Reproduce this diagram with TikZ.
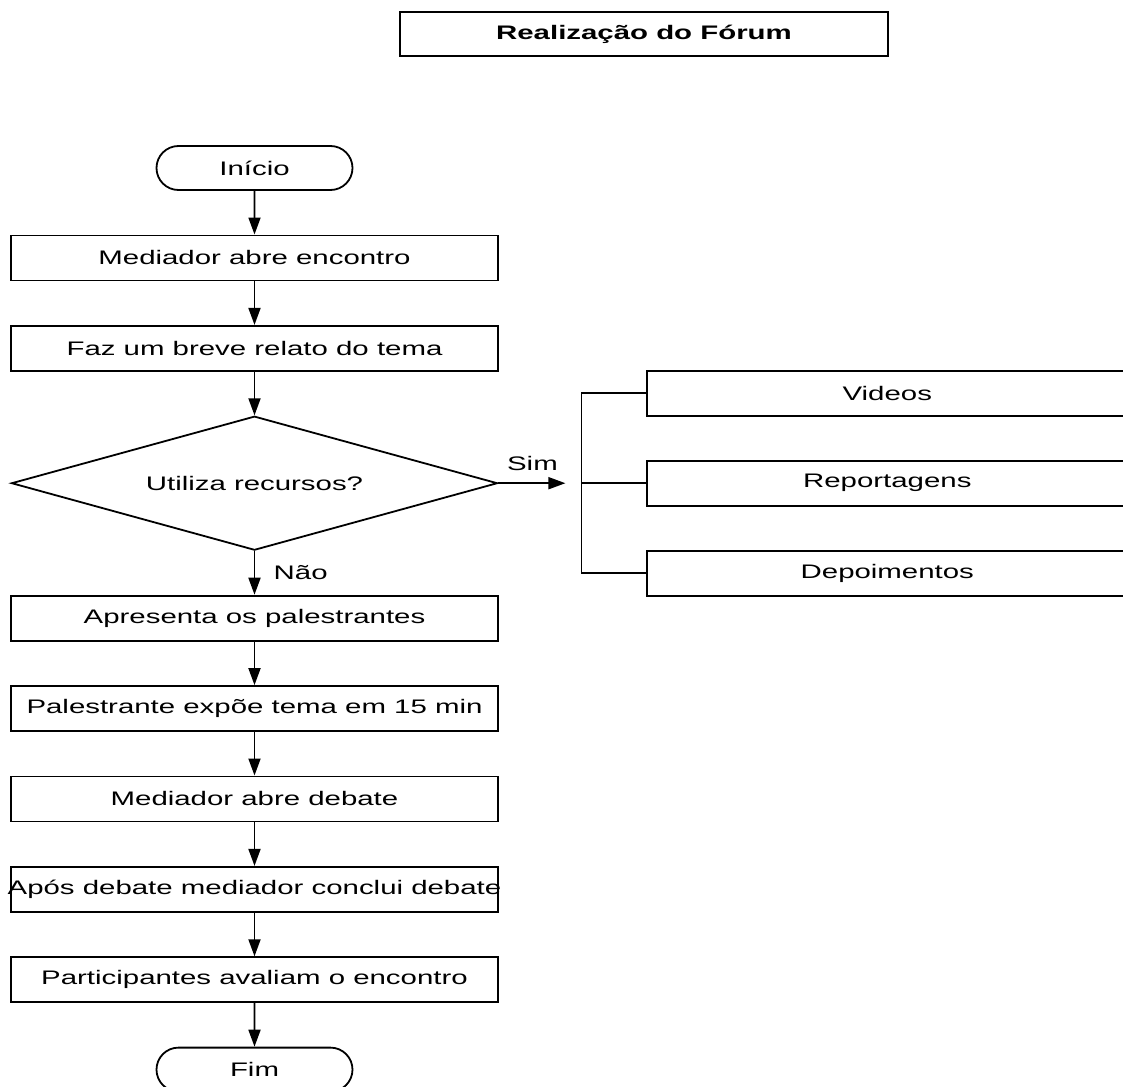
\documentclass[tikz,border=0pt]{standalone}
\usepackage{fontspec}
\setmainfont{Liberation Sans}[FakeStretch=1.5]
\usetikzlibrary{arrows.meta,positioning,shapes.geometric,shapes.misc}
\newcommand{\chartfont}{\fontsize{19.6}{24}\selectfont}
\tikzset{
    stepbox/.style={
        draw,
        rectangle,
        line width=1.8pt,
        minimum width=487pt,
        minimum height=45pt,
        inner sep=0pt
    },
    termbox/.style={
        draw,
        rounded rectangle,
        line width=1.8pt,
        minimum width=196pt,
        minimum height=44pt,
        inner sep=0pt
    },
    decbox/.style={
        draw,
        diamond,
        shape aspect=3.63,
        line width=1.8pt,
        minimum width=486pt,
        minimum height=134pt,
        inner sep=0pt
    },
    optbox/.style={
        stepbox,
        minimum width=480pt
    },
    titlebox/.style={
        stepbox,
        minimum width=488pt,
        minimum height=44pt,
        font=\chartfont\bfseries
    },
    arrow/.style={
        -{Triangle[length=17pt,width=12pt]},
        line width=1.8pt
    },
    link/.style={
        line width=1.8pt
    }
}

\begin{document}
\begin{tikzpicture}[
    node distance=43.6pt,
    every node/.append style={font=\chartfont}
]
    \useasboundingbox (0pt,0pt) rectangle (1123pt,-1086pt);
    \clip (0pt,0pt) rectangle (1123pt,-1086pt);

    \node[titlebox] (title) at (644pt,-34pt) {Realização do Fórum};

    \node[termbox] (start) at (254.5pt,-168pt) {Início};
    \node[stepbox, below=of start] (open) {Mediador abre encontro};
    \node[stepbox, below=of open] (brief) {Faz um breve relato do tema};
    \node[decbox, below=of brief] (res) {Utiliza recursos?};
    \node[stepbox, below=of res] (speakers) {Apresenta os palestrantes};
    \node[stepbox, below=of speakers] (talk) {Palestrante expõe tema em 15 min};
    \node[stepbox, below=of talk] (debate) {Mediador abre debate};
    \node[stepbox, below=of debate] (close)
        {\makebox[487pt]{Após debate mediador conclui debate}};
    \node[stepbox, below=of close] (review) {Participantes avaliam o encontro};
    \node[termbox, below=of review] (finish) {Fim};

    % resources branch
    \coordinate[right=83pt of res.east] (fork);
    \node[optbox, right=65pt of fork, yshift=90pt] (videos) {Videos};
    \node[optbox, right=65pt of fork] (reports) {Reportagens};
    \node[optbox, right=65pt of fork, yshift=-90pt] (quotes) {Depoimentos};

    \draw[arrow] (start) -- (open);
    \draw[arrow] (open) -- (brief);
    \draw[arrow] (brief) -- (res);
    \draw[arrow] (res) -- node[right=15pt] (nolbl) {Não} (speakers);
    \draw[arrow] (speakers) -- (talk);
    \draw[arrow] (talk) -- (debate);
    \draw[arrow] (debate) -- (close);
    \draw[arrow] (close) -- (review);
    \draw[arrow] (review) -- (finish);

    \draw[arrow, shorten >=16pt] (res.east) -- node[above=8pt, pos=0.41] (yeslbl) {Sim} (fork);
    \draw[link] (videos.west) -| (fork) |- (quotes.west);
    \draw[link] (fork) -- (reports.west);
\end{tikzpicture}
\end{document}
